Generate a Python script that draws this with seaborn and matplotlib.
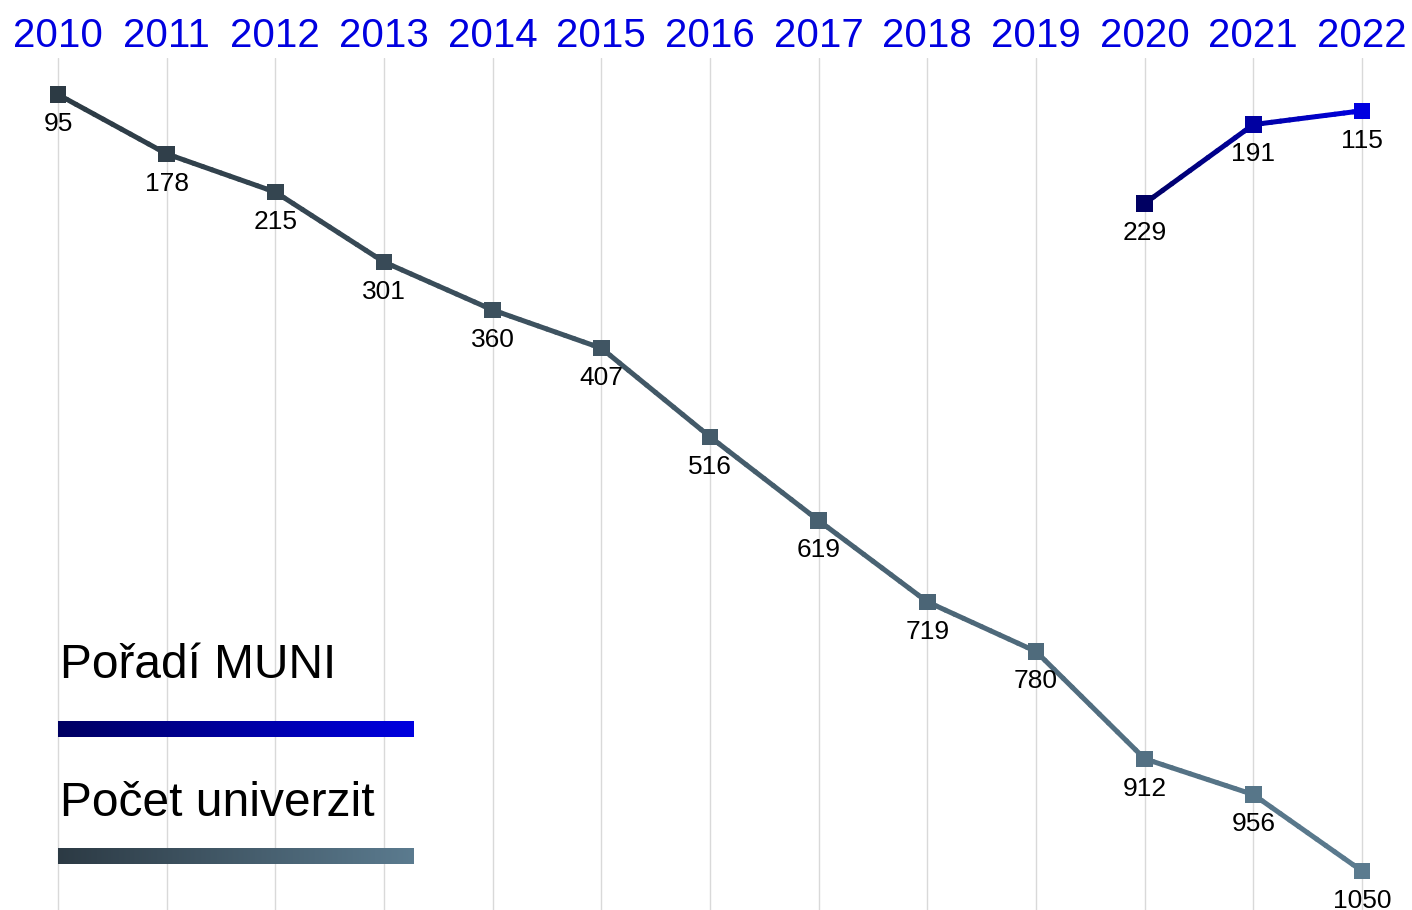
import numpy as np
import pandas as pd
import matplotlib
matplotlib.use("Agg")
import matplotlib.pyplot as plt
from matplotlib.collections import LineCollection
from matplotlib.colors import LinearSegmentedColormap, to_hex
import seaborn as sns

# ---- data ----
years = [2010, 2011, 2012, 2013, 2014, 2015, 2016, 2017, 2018, 2019, 2020, 2021, 2022]
pocet_labels = [95, 178, 215, 301, 360, 407, 516, 619, 719, 780, 912, 956, 1050]
pocet_pos = [95, 168, 215, 301, 360, 407, 516, 619, 719, 780, 912, 956, 1050]
muni_years = [2020, 2021, 2022]
muni_labels = [229, 191, 115]
muni_pos = [229, 132, 115]
legend_names = ["Pořadí MUNI", "Počet univerzit"]

# ---- style ----
sns.set_theme(style="white")
plt.rcParams["font.family"] = ["Liberation Sans", "DejaVu Sans"]

W, H, DPI = 1412, 910, 100
fig = plt.figure(figsize=(W / DPI, H / DPI), dpi=DPI)
fig.patch.set_facecolor("white")

px_per_year = (1362 - 58) / 12
px_per_unit = (871 - 94.5) / (1050 - 95)
top_px = 58
ax = fig.add_axes([0, 0, 1, (H - top_px) / H])
x0 = 2010 - 58 / px_per_year
x1 = 2022 + (W - 1362) / px_per_year
y_top = 95 - (94.5 - top_px) / px_per_unit
y_bot = 95 + (H - 94.5) / px_per_unit
ax.set_xlim(x0, x1)
ax.set_ylim(y_bot, y_top)

for s in ax.spines.values():
    s.set_visible(False)
ax.set_facecolor("white")
ax.set_xticks(years)
ax.set_xticklabels([str(y) for y in years])
ax.xaxis.tick_top()
ax.tick_params(axis="x", length=0, pad=2, labelsize=29, labelcolor="#0000e0")
ax.set_yticks([])
ax.grid(axis="x", color="#d9d9d9", linewidth=1)
ax.grid(axis="y", visible=False)
ax.set_axisbelow(True)

cm_pocet = LinearSegmentedColormap.from_list("pocet", ["#2c3a44", "#5b7b8f"])
cm_muni = LinearSegmentedColormap.from_list("muni", ["#000062", "#0000e0"])


def gradient_line(xs, ys, cmap, lw):
    xs = np.asarray(xs, float)
    ys = np.asarray(ys, float)
    xf = np.linspace(xs[0], xs[-1], 12 * (len(xs) - 1) + 1)
    xf = np.unique(np.concatenate([xf, xs]))
    yf = np.interp(xf, xs, ys)
    pts = np.column_stack([xf, yf]).reshape(-1, 1, 2)
    segs = np.concatenate([pts[:-1], pts[1:]], axis=1)
    t = (xf[:-1] + xf[1:]) / 2
    t = (t - xs[0]) / (xs[-1] - xs[0])
    lc = LineCollection(segs, colors=cmap(t), linewidths=lw, capstyle="round",
                        joinstyle="round", zorder=2)
    ax.add_collection(lc)


df_p = pd.DataFrame({"year": years, "pos": pocet_pos, "label": pocet_labels})
df_m = pd.DataFrame({"year": muni_years, "pos": muni_pos, "label": muni_labels})

gradient_line(df_p["year"], df_p["pos"], cm_pocet, 3.6)
gradient_line(df_m["year"], df_m["pos"], cm_muni, 3.6)

pal_p = [to_hex(cm_pocet(i / (len(years) - 1))) for i in range(len(years))]
pal_m = [to_hex(cm_muni(i / (len(muni_years) - 1))) for i in range(len(muni_years))]

sns.scatterplot(data=df_p, x="year", y="pos", hue="year", palette=pal_p, marker="s",
                s=140, linewidth=0, legend=False, ax=ax, zorder=3)
sns.scatterplot(data=df_m, x="year", y="pos", hue="year", palette=pal_m, marker="s",
                s=140, linewidth=0, legend=False, ax=ax, zorder=3)
ax.set_xlabel("")
ax.set_ylabel("")

for d in (df_p, df_m):
    for _, r in d.iterrows():
        ax.annotate(str(r["label"]), (r["year"], r["pos"]), xytext=(0, -21.5),
                    textcoords="offset points", ha="center", va="center",
                    fontsize=19, color="black", zorder=4)

# ---- legend ----
fig.text(60 / W, 1 - 678 / H, legend_names[0], fontsize=34.5, color="black",
         ha="left", va="baseline")
fig.text(60 / W, 1 - 816 / H, legend_names[1], fontsize=34.5, color="black",
         ha="left", va="baseline")

grad = np.linspace(0, 1, 256).reshape(1, -1)
for (yc, cmap) in [(729, cm_muni), (856, cm_pocet)]:
    bax = fig.add_axes([58 / W, 1 - (yc + 8) / H, (413 - 58) / W, 16 / H])
    bax.imshow(grad, aspect="auto", cmap=cmap)
    bax.set_axis_off()

fig.savefig("out.png", dpi=DPI, facecolor="white")
